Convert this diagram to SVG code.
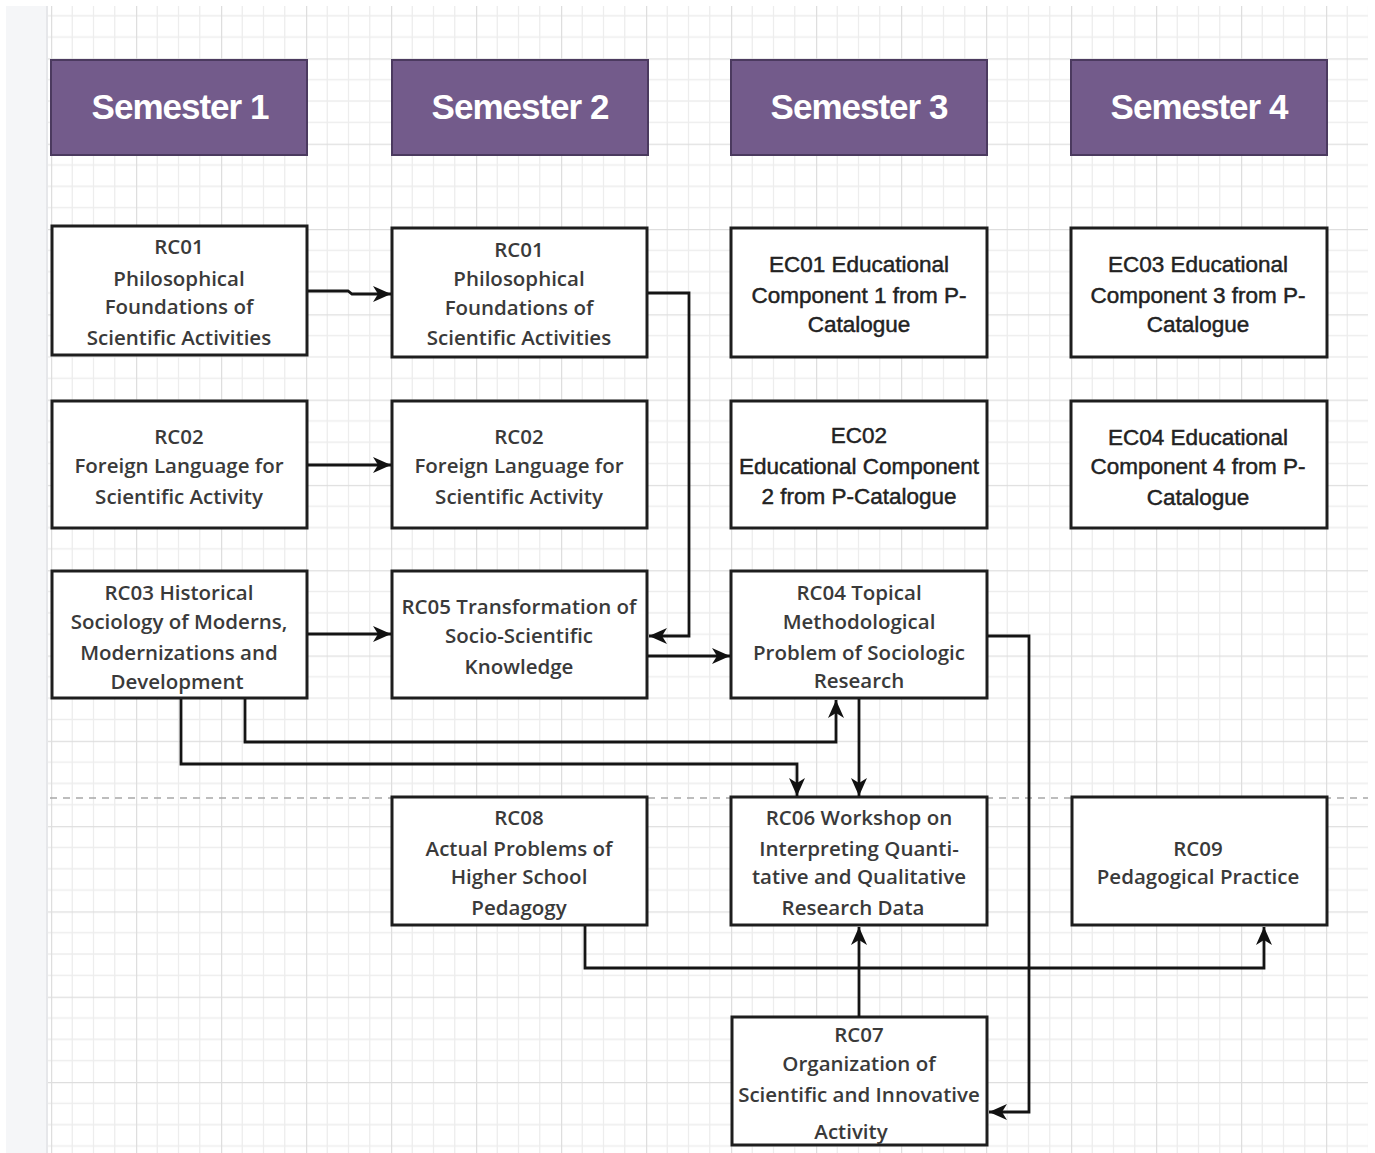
<svg xmlns="http://www.w3.org/2000/svg" width="1375" height="1153" viewBox="0 0 1375 1153">
<style>
.hdr rect{fill:#735b8b;stroke:#4b3a5f;stroke-width:2}
.hdr text{font-family:"Liberation Sans",Arial,sans-serif;font-weight:bold;font-size:35px;letter-spacing:-1px;fill:#fff;text-anchor:middle}
.node rect{fill:#fff;stroke:#1e1e1e;stroke-width:3}
.node text{font-family:"Open Sans","Noto Sans",sans-serif;font-size:20.5px;font-weight:600;fill:#3a3a3a;text-anchor:middle}
.ec text{font-family:"Liberation Sans",Arial,sans-serif;font-size:22.5px;font-weight:normal;fill:#222;stroke:#222;stroke-width:0.45;text-anchor:middle}
.conn path{fill:none;stroke:#141414;stroke-width:2.8}
</style>
<defs>
<pattern id="grid" patternUnits="userSpaceOnUse" x="51" y="58.4" width="85" height="85.3">
<path d="M21.25,0V85.3M42.5,0V85.3M63.75,0V85.3M0,21.33H85M0,42.66H85M0,64H85" stroke="#ededed" stroke-width="1.3" fill="none"/>
<path d="M0.5,0V85.3M0,0.5H85" stroke="#dedede" stroke-width="1.5" fill="none"/>
</pattern>
<marker id="arr" markerUnits="userSpaceOnUse" markerWidth="20" markerHeight="18" refX="18" refY="9" orient="auto">
<path d="M0,1 L18,9 L0,17 L5,9 z" fill="#111"/>
</marker>
</defs>
<rect x="0" y="0" width="1375" height="1153" fill="#fff"/>
<rect x="6" y="6" width="42" height="1147" fill="#f5f6f8"/>
<rect x="46" y="6" width="2" height="1147" fill="#e6e7ea"/>
<rect x="48" y="6" width="1320" height="1147" fill="url(#grid)"/>
<line x1="50" y1="798" x2="1368" y2="798" stroke="#a8a8a8" stroke-width="1.5" stroke-dasharray="7,6"/>

<g id="semester1" class="hdr"><rect x="51" y="60" width="256" height="95"/><text x="180" y="119">Semester 1</text></g>
<g id="semester2" class="hdr"><rect x="392" y="60" width="256" height="95"/><text x="520" y="119">Semester 2</text></g>
<g id="semester3" class="hdr"><rect x="731" y="60" width="256" height="95"/><text x="859" y="119">Semester 3</text></g>
<g id="semester4" class="hdr"><rect x="1071" y="60" width="256" height="95"/><text x="1199" y="119">Semester 4</text></g>

<g id="rc01-s1" class="node"><rect x="52" y="226" width="255" height="129"/>
<text x="179" y="254">RC01</text><text x="179" y="286">Philosophical</text><text x="179" y="314">Foundations of</text><text x="179" y="345">Scientific Activities</text></g>
<g id="rc01-s2" class="node"><rect x="392" y="228" width="255" height="129"/>
<text x="519" y="257">RC01</text><text x="519" y="286">Philosophical</text><text x="519" y="315">Foundations of</text><text x="519" y="345">Scientific Activities</text></g>
<g id="ec01" class="node ec"><rect x="731" y="228" width="256" height="129"/>
<text x="859" y="272">EC01 Educational</text><text x="859" y="303">Component 1 from P-</text><text x="859" y="332">Catalogue</text></g>
<g id="ec03" class="node ec"><rect x="1071" y="228" width="256" height="129"/>
<text x="1198" y="272">EC03 Educational</text><text x="1198" y="303">Component 3 from P-</text><text x="1198" y="332">Catalogue</text></g>

<g id="rc02-s1" class="node"><rect x="52" y="401" width="255" height="127"/>
<text x="179" y="444">RC02</text><text x="179" y="473">Foreign Language for</text><text x="179" y="504">Scientific Activity</text></g>
<g id="rc02-s2" class="node"><rect x="392" y="401" width="255" height="127"/>
<text x="519" y="444">RC02</text><text x="519" y="473">Foreign Language for</text><text x="519" y="504">Scientific Activity</text></g>
<g id="ec02" class="node ec"><rect x="731" y="401" width="256" height="127"/>
<text x="859" y="443">EC02</text><text x="859" y="474">Educational Component</text><text x="859" y="504">2 from P-Catalogue</text></g>
<g id="ec04" class="node ec"><rect x="1071" y="401" width="256" height="127"/>
<text x="1198" y="445">EC04 Educational</text><text x="1198" y="474">Component 4 from P-</text><text x="1198" y="505">Catalogue</text></g>

<g id="rc03" class="node"><rect x="52" y="571" width="255" height="127"/>
<text x="179" y="600">RC03 Historical</text><text x="179" y="629">Sociology of Moderns,</text><text x="179" y="660">Modernizations and</text><text x="177" y="689">Development</text></g>
<g id="rc05" class="node"><rect x="392" y="571" width="255" height="127"/>
<text x="519" y="614">RC05 Transformation of</text><text x="519" y="643">Socio-Scientific</text><text x="519" y="674">Knowledge</text></g>
<g id="rc04" class="node"><rect x="731" y="571" width="256" height="127"/>
<text x="859" y="600">RC04 Topical</text><text x="859" y="629">Methodological</text><text x="859" y="660">Problem of  Sociologic</text><text x="859" y="688">Research</text></g>

<g id="rc08" class="node"><rect x="392" y="797" width="255" height="128"/>
<text x="519" y="825">RC08</text><text x="519" y="856">Actual Problems of</text><text x="519" y="884">Higher School</text><text x="519" y="915">Pedagogy</text></g>
<g id="rc06" class="node"><rect x="731" y="797" width="256" height="128"/>
<text x="859" y="825">RC06 Workshop on</text><text x="859" y="856">Interpreting Quanti-</text><text x="859" y="884">tative and Qualitative</text><text x="853" y="915">Research Data</text></g>
<g id="rc09" class="node"><rect x="1072" y="797" width="255" height="128"/>
<text x="1198" y="856">RC09</text><text x="1198" y="884">Pedagogical Practice</text></g>

<g id="rc07" class="node"><rect x="732" y="1017" width="255" height="128"/>
<text x="859" y="1042">RC07</text><text x="859" y="1071">Organization of</text><text x="859" y="1102">Scientific and Innovative</text><text x="851" y="1139">Activity</text></g>

<g id="connectors" class="conn">
<path d="M308,291 H348 L352,294 H391" marker-end="url(#arr)"/>
<path d="M648,293 H689 V636 H649" marker-end="url(#arr)"/>
<path d="M308,465 H391" marker-end="url(#arr)"/>
<path d="M308,634 H391" marker-end="url(#arr)"/>
<path d="M648,656 H730" marker-end="url(#arr)"/>
<path d="M245,699 V742 H836 V700" marker-end="url(#arr)"/>
<path d="M181,699 V764 H797 V796" marker-end="url(#arr)"/>
<path d="M859,699 V796" marker-end="url(#arr)"/>
<path d="M988,636 H1029 V1112 H989" marker-end="url(#arr)"/>
<path d="M859,1017 V927" marker-end="url(#arr)"/>
<path d="M585,926 V968 H1264 V927" marker-end="url(#arr)"/>
</g>
</svg>
